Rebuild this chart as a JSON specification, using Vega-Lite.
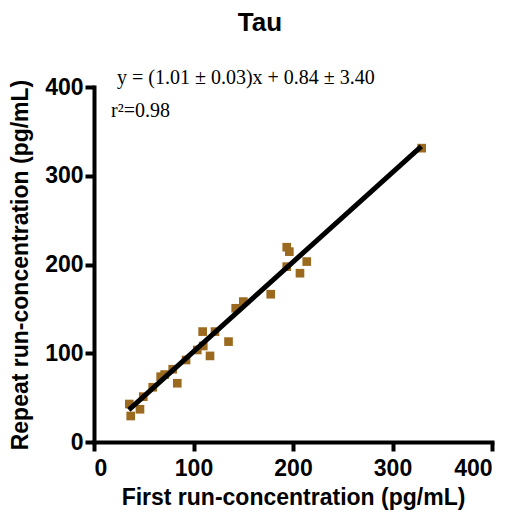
{
  "$schema": "https://vega.github.io/schema/vega-lite/v6.json",
  "autosize": "none",
  "width": 398,
  "height": 355,
  "padding": {"left": 94, "top": 87, "right": 27, "bottom": 73},
  "background": "white",
  "title": {"text": "Tau", "font": "Liberation Sans", "fontSize": 26, "fontWeight": "bold", "color": "black", "anchor": "middle", "offset": 32, "dx": -33},
  "config": {
    "view": {"stroke": null},
    "axis": {
      "grid": false,
      "domainColor": "black", "domainWidth": 4, "domainCap": "square",
      "tickColor": "black", "tickWidth": 4, "tickSize": 9,
      "labelFont": "Liberation Sans", "labelFontSize": 23, "labelFontWeight": "bold", "labelColor": "black",
      "titleFont": "Liberation Sans", "titleFontSize": 23, "titleFontWeight": "bold", "titleColor": "black"
    }
  },
  "datasets": {
    "pts": [
      {"first": 35.5, "repeat": 42.8},
      {"first": 46.2, "repeat": 36.9},
      {"first": 36.9, "repeat": 29.3},
      {"first": 49.5, "repeat": 51.1},
      {"first": 59.0, "repeat": 61.7},
      {"first": 67.0, "repeat": 73.6},
      {"first": 71.0, "repeat": 76.0},
      {"first": 79.1, "repeat": 82.0},
      {"first": 83.7, "repeat": 66.2},
      {"first": 92.5, "repeat": 92.4},
      {"first": 103.8, "repeat": 103.7},
      {"first": 109.8, "repeat": 108.2},
      {"first": 109.2, "repeat": 124.4},
      {"first": 121.6, "repeat": 124.4},
      {"first": 116.6, "repeat": 97.0},
      {"first": 135.2, "repeat": 113.1},
      {"first": 142.4, "repeat": 150.7},
      {"first": 150.1, "repeat": 158.2},
      {"first": 177.6, "repeat": 166.5},
      {"first": 193.7, "repeat": 219.5},
      {"first": 196.3, "repeat": 214.5},
      {"first": 193.7, "repeat": 197.6},
      {"first": 213.8, "repeat": 203.3},
      {"first": 207.0, "repeat": 190.2},
      {"first": 329.3, "repeat": 331.1}
    ],
    "fit": [
      {"first": 35, "repeat": 36.2},
      {"first": 329, "repeat": 333.1}
    ],
    "notes": [
      {"label": "y = (1.01 ± 0.03)x + 0.84 ± 3.40", "first": 23.1, "repeat": 403.4},
      {"label": "r²=0.98", "first": 17.1, "repeat": 366.2}
    ]
  },
  "layer": [
    {
      "data": {"name": "pts"},
      "mark": {"type": "square", "color": "#9c6a1f", "opacity": 1, "size": 75},
      "encoding": {
        "x": {"field": "first", "type": "quantitative", "scale": {"domain": [0, 400], "nice": false}, "axis": {"values": [0, 100, 200, 300, 400], "title": "First run-concentration (pg/mL)", "labelPadding": 6, "titlePadding": 6}},
        "y": {"field": "repeat", "type": "quantitative", "scale": {"domain": [0, 400], "nice": false}, "axis": {"values": [0, 100, 200, 300, 400], "title": "Repeat run-concentration (pg/mL)", "labelPadding": 2, "titlePadding": 12}}
      }
    },
    {
      "data": {"name": "fit"},
      "mark": {"type": "line", "color": "black", "strokeWidth": 5},
      "encoding": {
        "x": {"field": "first", "type": "quantitative"},
        "y": {"field": "repeat", "type": "quantitative"}
      }
    },
    {
      "data": {"name": "notes"},
      "mark": {"type": "text", "align": "left", "baseline": "alphabetic", "font": "Liberation Serif", "fontSize": 20, "color": "black"},
      "encoding": {
        "x": {"field": "first", "type": "quantitative"},
        "y": {"field": "repeat", "type": "quantitative"},
        "text": {"field": "label"}
      }
    }
  ]
}
